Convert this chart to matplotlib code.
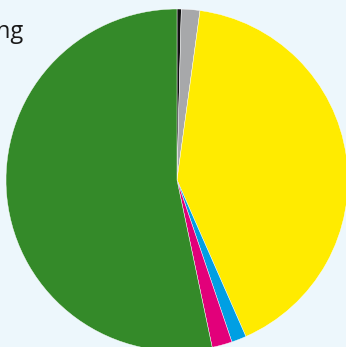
"""Pie chart recreation (cropped view)."""

import matplotlib

matplotlib.use("Agg")
import matplotlib.pyplot as plt

# shares in percent, clockwise from 12 o'clock
labels = ["Sonstige", "Ungültig", "Gelb", "Blau", "Magenta", "Grün"]
shares = [0.4, 1.75, 41.25, 1.4, 1.9, 53.3]
colors = ["#111111", "#A7A8AA", "#FFEB00", "#009FE3", "#E2007A", "#348A29"]

BG = "#EDF7FC"
W, H = 346, 347

fig = plt.figure(figsize=(W / 100, H / 100), dpi=100, facecolor=BG)
ax = fig.add_axes([0, 0, 1, 1])
ax.set_facecolor(BG)

ax.pie(
    shares,
    colors=colors,
    startangle=90,
    counterclock=False,
    center=(177, H - 180),
    radius=171,
    wedgeprops={"edgecolor": "white", "linewidth": 0.3},
    frame=True,
)
ax.set_xlim(0, W)
ax.set_ylim(0, H)
ax.set_aspect("equal")
ax.axis("off")

# legend text cut off on the left
ax.text(23, H - 38, "ng", ha="right", va="baseline", fontsize=17,
        family="Open Sans", color="#1a1a1a")

fig.savefig("out.png", dpi=100, facecolor=BG)
plt.close(fig)
